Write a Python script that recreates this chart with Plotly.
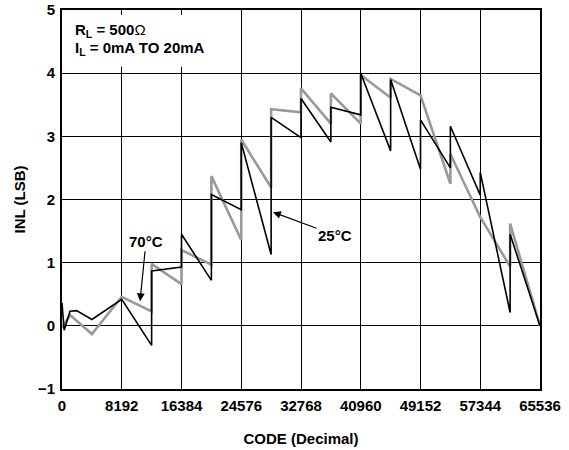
import plotly.graph_objects as go

# 25°C curve (black)
black_code = [0, 300, 1100, 2000, 4096, 8192, 12288, 12288, 16384, 16384, 20480, 20480,
              24576, 24576, 28672, 28672, 32768, 32768, 36864, 36864, 40960, 40960,
              45056, 45056, 49152, 49152, 53248, 53248, 57344, 57344, 61440, 61440, 65536]
black_inl = [0.36, -0.07, 0.23, 0.24, 0.10, 0.42, -0.31, 0.87, 0.93, 1.45, 0.72, 2.08,
             1.84, 2.90, 1.13, 3.30, 2.98, 3.60, 2.91, 3.46, 3.34, 4.00,
             2.77, 3.90, 2.48, 3.26, 2.50, 3.16, 2.07, 2.43, 0.21, 1.45, 0.0]

# 70°C curve (gray)
gray_code = [0, 1100, 4096, 8192, 12288, 12288, 16384, 16384, 20480, 20480, 24576, 24576,
             28672, 28672, 32768, 32768, 36864, 36864, 40960, 40960, 45056, 45056,
             49152, 53248, 53248, 57344, 61440, 61440, 65536]
gray_inl = [-0.03, 0.17, -0.13, 0.46, 0.23, 0.98, 0.66, 1.20, 0.97, 2.37, 1.36, 2.95,
            2.19, 3.43, 3.38, 3.76, 3.20, 3.68, 3.20, 3.97, 3.61, 3.91,
            3.65, 2.25, 2.72, 1.72, 0.94, 1.62, 0.0]

x_ticks = [0, 8192, 16384, 24576, 32768, 40960, 49152, 57344, 65536]
y_ticks = [-1, 0, 1, 2, 3, 4, 5]
y_tick_text = ["\u22121", "0", "1", "2", "3", "4", "5"]

FONT = "Liberation Sans, Arial, sans-serif"

fig = go.Figure()
fig.add_trace(go.Scatter(x=gray_code, y=gray_inl, mode="lines",
                         line=dict(color="#999999", width=2.6), name="70°C"))
fig.add_trace(go.Scatter(x=black_code, y=black_inl, mode="lines",
                         line=dict(color="#000000", width=1.6), name="25°C"))

fig.update_layout(
    width=569, height=450,
    margin=dict(l=62, r=29, t=10, b=61),
    paper_bgcolor="white", plot_bgcolor="white",
    showlegend=False,
    font=dict(family=FONT, size=15, color="black"),
)
fig.update_xaxes(
    range=[0, 65536], tickvals=x_ticks, ticktext=[str(v) for v in x_ticks],
    showgrid=True, gridcolor="black", gridwidth=1,
    showline=True, linecolor="black", linewidth=2, mirror=True,
    zeroline=False, ticks="", ticklabelstandoff=2, automargin=False,
    tickfont=dict(family=FONT, size=15, weight="bold"),
    title=dict(text="<b>CODE (Decimal)</b>", font=dict(family=FONT, size=15), standoff=20),
)
fig.update_yaxes(
    range=[-1, 5], tickvals=y_ticks, ticktext=y_tick_text,
    showgrid=True, gridcolor="black", gridwidth=1,
    showline=True, linecolor="black", linewidth=2, mirror=True,
    zeroline=False, ticks="", ticklabelstandoff=2, automargin=False,
    tickfont=dict(family=FONT, size=15, weight="bold"),
    title=dict(text="<b>INL (LSB)</b>", font=dict(family=FONT, size=15), standoff=9),
)

# white box behind the condition text
fig.add_shape(type="rect", xref="paper", yref="paper",
              x0=0.003, x1=0.34, y0=0.85, y1=0.987,
              fillcolor="white", line=dict(width=0), layer="above")
fig.add_annotation(xref="paper", yref="paper", x=0.022, y=0.947, xanchor="left", yanchor="middle",
                   text="<b>R<sub>L</sub> = 500</b>\u03a9", showarrow=False,
                   font=dict(family=FONT, size=15))
fig.add_annotation(xref="paper", yref="paper", x=0.022, y=0.899, xanchor="left", yanchor="middle",
                   text="<b>I<sub>L</sub> = 0mA TO 20mA</b>", showarrow=False,
                   font=dict(family=FONT, size=15))

# 70°C label with arrow
fig.add_annotation(x=10700, y=0.39, ax=6, ay=-60, text="<b>70\u00b0C</b>", showarrow=True,
                   arrowhead=2, arrowsize=1.3, arrowwidth=1.2, arrowcolor="black",
                   font=dict(family=FONT, size=15))

# 25°C label with arrow
fig.add_annotation(x=28930, y=1.80, ax=62, ay=23, text="<b>25\u00b0C</b>", showarrow=True,
                   arrowhead=2, arrowsize=1.3, arrowwidth=1.2, arrowcolor="black",
                   font=dict(family=FONT, size=15))

fig.write_html("out.html", config={"displayModeBar": False},
               post_script="document.body.style.margin='0px';")
